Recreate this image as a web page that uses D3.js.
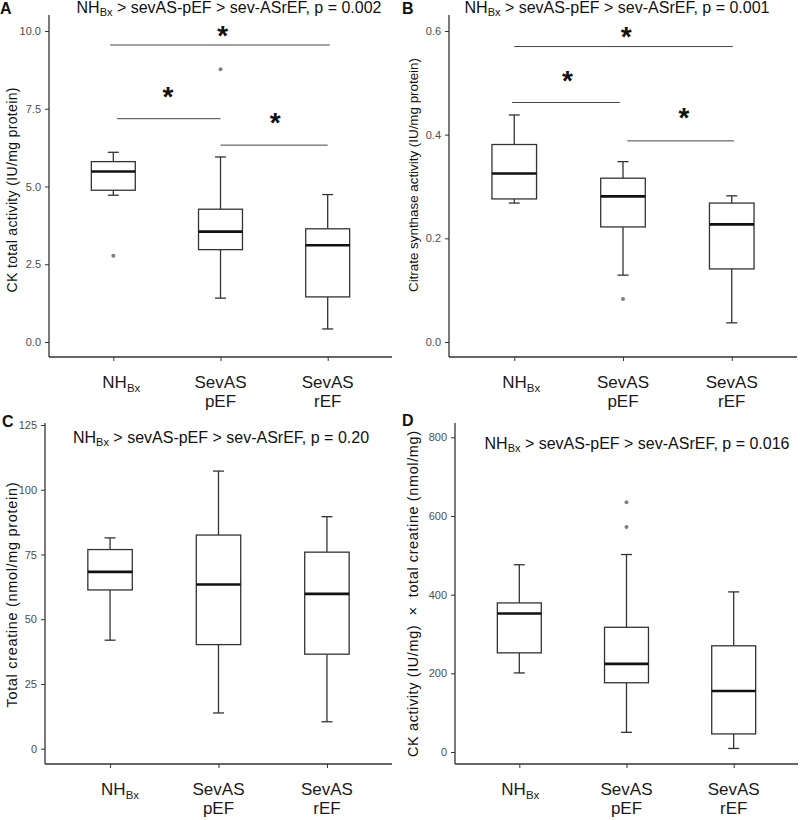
<!DOCTYPE html>
<html>
<head>
<meta charset="utf-8">
<script src="https://cdn.jsdelivr.net/npm/d3@7"></script>
<style>
  body { margin: 0; background: #fff; }
  svg { display: block; font-family: "Liberation Sans", Arial, sans-serif; }
</style>
</head>
<body>
<svg id="chart" width="800" height="820"></svg>
<script>
// ---------- data ----------
const categories = ["NHBx", "SevAS pEF", "SevAS rEF"];

// box stats: [whiskerLow, q1, median, q3, whiskerHigh]
const statsA = [[4.72, 4.88, 5.48, 5.80, 6.10], [1.41, 2.97, 3.55, 4.27, 5.95], [0.42, 1.45, 3.11, 3.64, 4.74]];
const outliersA = [[2.77], [8.77], []];
const statsB = [[0.268, 0.276, 0.325, 0.381, 0.438], [0.129, 0.222, 0.281, 0.316, 0.348], [0.037, 0.141, 0.227, 0.268, 0.282]];
const outliersB = [[], [0.083], []];
const statsC = [[41.9, 61.3, 68.3, 76.9, 81.4], [13.8, 40.2, 63.4, 82.5, 107.2], [10.4, 36.5, 59.8, 75.9, 89.6]];
const outliersC = [[], [], []];
const statsD = [[201, 252, 352, 379, 476], [50, 176, 224, 317, 502], [9, 46, 155, 270, 407]];
const outliersD = [[], [635, 572], []];

const ticksA = [0, 2.5, 5, 7.5, 10];
const ticksB = [0, 0.2, 0.4, 0.6];
const ticksC = [0, 25, 50, 75, 100, 125];
const ticksD = [0, 200, 400, 600, 800];

// significance brackets: [fromIndex, toIndex, yValue, starIndex, starY]
const sigA = [[-0.03, 2.02, 9.55, 1.02, 9.99], [0.035, 1.0, 7.18, 0.51, 8.04], [1.0, 2.0, 6.33, 1.51, 7.2]];
const sigB = [[0.0, 2.01, 0.570, 1.03, 0.598], [-0.02, 0.97, 0.462, 0.49, 0.513], [1.04, 2.02, 0.388, 1.56, 0.441]];

const pvalues = ["0.002", "0.001", "0.20", "0.016"];
const yLabels = [
  "CK total activity (IU/mg protein)",
  "Citrate synthase activity (IU/mg protein)",
  "Total creatine (nmol/mg protein)",
  "CK activity (IU/mg)  \u00d7  total creatine (nmol/mg)"
];
const panelLetters = ["A", "B", "C", "D"];

// ---------- layout ----------
const panels = [
  { letter: 0, stats: statsA, out: outliersA, ticks: ticksA, fmt: d3.format(".1f"), sig: sigA, domain: [0, 10],
    left: 49, right: 392, top: 15, bottom: 357, y0: 342, y1: 31, titleX: 229, titleY: 13, letterX: 0, letterY: 14,
    ylabX: 12, ylabY: 190, ylabLen: 205, ylabSize: 14, nhDx: 8 },
  { letter: 1, stats: statsB, out: outliersB, ticks: ticksB, fmt: d3.format(".1f"), sig: sigB, domain: [0, 0.6],
    left: 449, right: 797, top: 15, bottom: 357, y0: 342, y1: 31, titleX: 617, titleY: 13, letterX: 402, letterY: 14,
    ylabX: 413, ylabY: 175, ylabLen: 234, ylabSize: 13.4, nhDx: 7 },
  { letter: 2, stats: statsC, out: outliersC, ticks: ticksC, fmt: d3.format("d"), sig: [], domain: [0, 125],
    left: 45, right: 392, top: 423, bottom: 764, y0: 748.7, y1: 425, titleX: 221, titleY: 443, letterX: 2, letterY: 427,
    ylabX: 12, ylabY: 595, ylabLen: 225, ylabSize: 14.5, nhDx: 10 },
  { letter: 3, stats: statsD, out: outliersD, ticks: ticksD, fmt: d3.format("d"), sig: [], domain: [0, 800],
    left: 455, right: 798, top: 423, bottom: 764, y0: 752, y1: 437.3, titleX: 637, titleY: 449, letterX: 402, letterY: 426,
    ylabX: 413, ylabY: 594, ylabLen: 326, ylabSize: 14.5, nhDx: 1 }
];

const svg = d3.select("#chart");
const axisCol = "#333333";
const tickTextCol = "#4d4d4d";

panels.forEach((p, pi) => {
  const g = svg.append("g");
  const y = d3.scaleLinear().domain(p.domain).range([p.y0, p.y1]);
  const x = d3.scalePoint().domain(categories).range([p.left, p.right]).padding(0.6);
  const xi = d3.scaleLinear().domain([0, 2]).range([x(categories[0]), x(categories[2])]);
  const step = x.step();
  const boxW = step * 0.41;
  const capW = 11;

  // y axis
  const ya = g.append("g").attr("transform", `translate(${p.left},0)`)
    .call(d3.axisLeft(y).tickValues(p.ticks).tickFormat(p.fmt).tickSize(4).tickPadding(4));
  ya.select(".domain").remove();
  ya.selectAll(".tick line").attr("stroke", axisCol).attr("stroke-width", 1);
  ya.selectAll(".tick text").attr("fill", tickTextCol).style("font-size", "11px").style("font-family", "Liberation Sans, Arial, sans-serif");
  g.append("line").attr("x1", p.left).attr("x2", p.left).attr("y1", p.top).attr("y2", p.bottom)
    .attr("stroke", axisCol).attr("stroke-width", 1.3);

  // x axis
  const xa = g.append("g").attr("transform", `translate(0,${p.bottom})`)
    .call(d3.axisBottom(x).tickSize(4).tickFormat(""));
  xa.select(".domain").remove();
  xa.selectAll(".tick line").attr("stroke", axisCol).attr("stroke-width", 1);
  g.append("line").attr("x1", p.left).attr("x2", p.right).attr("y1", p.bottom).attr("y2", p.bottom)
    .attr("stroke", axisCol).attr("stroke-width", 1.3);

  // x tick labels
  categories.forEach((c, i) => {
    const t = g.append("text").attr("x", x(c)).attr("text-anchor", "middle")
      .attr("fill", "#1a1a1a").style("font-size", "17px");
    if (i === 0) {
      t.attr("y", p.bottom + 31).attr("x", x(c) + p.nhDx);
      t.append("tspan").text("NH");
      t.append("tspan").text("Bx").style("font-size", "11.5px").attr("dy", 4);
    } else {
      const parts = c.split(" ");
      t.attr("y", p.bottom + 31).text(parts[0]);
      g.append("text").attr("x", x(c)).attr("y", p.bottom + 50).attr("text-anchor", "middle")
        .attr("fill", "#1a1a1a").style("font-size", "17px").text(parts[1]);
    }
  });

  // boxes
  p.stats.forEach((s, i) => {
    const cx = x(categories[i]);
    const [lo, q1, med, q3, hi] = s;
    g.append("line").attr("x1", cx).attr("x2", cx).attr("y1", y(q3)).attr("y2", y(hi)).attr("stroke", "#333").attr("stroke-width", 1.3);
    g.append("line").attr("x1", cx).attr("x2", cx).attr("y1", y(q1)).attr("y2", y(lo)).attr("stroke", "#333").attr("stroke-width", 1.3);
    g.append("line").attr("x1", cx - capW / 2).attr("x2", cx + capW / 2).attr("y1", y(hi)).attr("y2", y(hi)).attr("stroke", "#333").attr("stroke-width", 1.3);
    g.append("line").attr("x1", cx - capW / 2).attr("x2", cx + capW / 2).attr("y1", y(lo)).attr("y2", y(lo)).attr("stroke", "#333").attr("stroke-width", 1.3);
    g.append("rect").attr("x", cx - boxW / 2).attr("width", boxW).attr("y", y(q3)).attr("height", y(q1) - y(q3))
      .attr("fill", "#fff").attr("stroke", "#333").attr("stroke-width", 1.3);
    g.append("line").attr("x1", cx - boxW / 2).attr("x2", cx + boxW / 2).attr("y1", y(med)).attr("y2", y(med))
      .attr("stroke", "#111").attr("stroke-width", 2.6);
    p.out[i].forEach(o => {
      g.append("circle").attr("cx", cx).attr("cy", y(o)).attr("r", 2).attr("fill", "#7f7f7f");
    });
  });

  // significance
  p.sig.forEach(sg => {
    g.append("line").attr("x1", xi(sg[0])).attr("x2", xi(sg[1])).attr("y1", y(sg[2])).attr("y2", y(sg[2]))
      .attr("stroke", "#444").attr("stroke-width", 1);
    g.append("text").attr("x", xi(sg[3])).attr("y", y(sg[4]) + 14).attr("text-anchor", "middle")
      .style("font-size", "28px").style("font-weight", "bold").attr("fill", "#111").text("*");
  });

  // title
  const tt = g.append("text").attr("x", p.titleX).attr("y", p.titleY).attr("text-anchor", "middle")
    .attr("fill", "#111").style("font-size", "16px");
  tt.append("tspan").text("NH");
  tt.append("tspan").text("Bx").style("font-size", "11px").attr("dy", 3);
  tt.append("tspan").text(" > sevAS-pEF > sev-ASrEF, p = " + pvalues[pi]).attr("dy", -3);

  // panel letter
  g.append("text").attr("x", p.letterX).attr("y", p.letterY).style("font-size", "16px").style("font-weight", "bold")
    .attr("fill", "#111").text(panelLetters[p.letter]);

  // y label
  g.append("text").attr("transform", `translate(${p.ylabX},${p.ylabY}) rotate(-90)`).attr("text-anchor", "middle")
    .attr("dy", "0.35em").style("font-size", p.ylabSize + "px").attr("fill", "#111")
    .attr("textLength", p.ylabLen).attr("lengthAdjust", "spacing").style("white-space", "pre").text(yLabels[pi]);
});
</script>
</body>
</html>
